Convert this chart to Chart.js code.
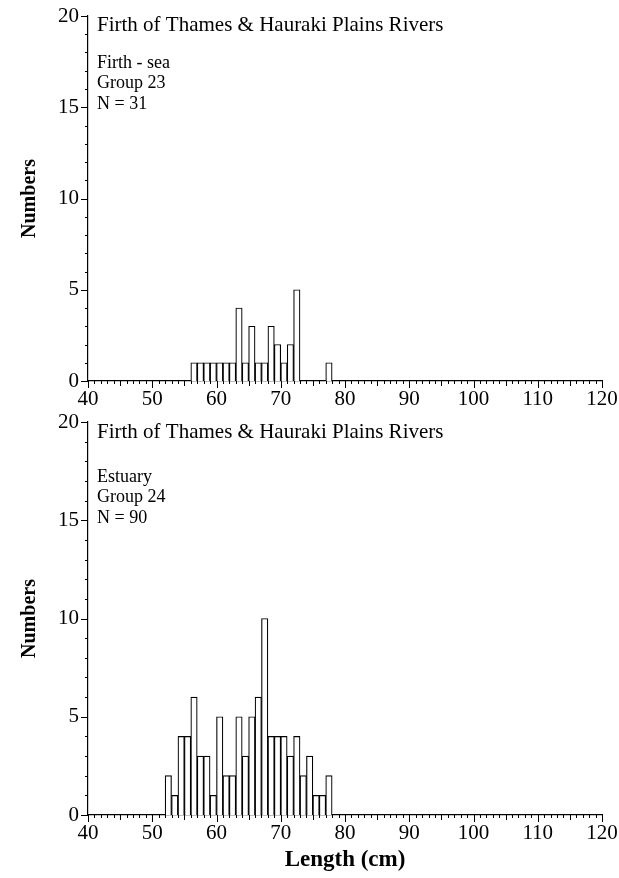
<!DOCTYPE html>
<html>
<head>
<meta charset="utf-8">
<title>Firth of Thames &amp; Hauraki Plains Rivers</title>
<script src="https://cdn.jsdelivr.net/npm/chart.js@4.4.1/dist/chart.umd.min.js"></script>
<style>
  html, body { margin: 0; padding: 0; background: #fff; }
  .panel { position: absolute; left: 0; width: 619px; }
</style>
</head>
<body>
<div class="panel" style="top:0;height:415px"><canvas id="seaChart"></canvas></div>
<div class="panel" style="top:405px;height:473px"><canvas id="estuaryChart"></canvas></div>
<script>
// lower edge of each 1 cm length class (cm) and number of fish in it
const seaBins = [56, 57, 58, 59, 60, 61, 62, 63, 64, 65, 66, 67, 68, 69, 70, 71, 72, 77];
const seaCounts = [1, 1, 1, 1, 1, 1, 1, 4, 1, 3, 1, 1, 3, 2, 1, 2, 5, 1];

const estuaryBins = [52, 53, 54, 55, 56, 57, 58, 59, 60, 61, 62, 63, 64, 65, 66, 67, 68, 69, 70, 71, 72, 73, 74, 75, 76, 77];
const estuaryCounts = [2, 1, 4, 4, 6, 3, 3, 1, 5, 2, 2, 5, 3, 5, 6, 10, 4, 4, 4, 3, 4, 2, 3, 1, 1, 2];

const lengthRange = [40, 120];
const numberRange = [0, 20];

const panelTitle = 'Firth of Thames & Hauraki Plains Rivers';
const seaNotes = ['Firth - sea', 'Group 23', 'N = 31'];
const estuaryNotes = ['Estuary', 'Group 24', 'N = 90'];

const SERIF = "'Liberation Serif', 'Times New Roman', serif";

// minor ticks every 1 unit, drawn outward from both axis lines
const axisTicks = {
  id: 'axisTicks',
  afterDraw(chart) {
    const { ctx } = chart;
    const x = chart.scales.x, y = chart.scales.y;
    ctx.save();
    ctx.strokeStyle = '#000';
    ctx.lineWidth = 1;
    ctx.beginPath();
    for (let v = x.min; v <= x.max; v++) {
      const len = v % 10 === 0 ? 7 : (v % 5 === 0 ? 5 : 3);
      const px = Math.round(x.getPixelForValue(v)) + 0.5;
      ctx.moveTo(px, y.bottom);
      ctx.lineTo(px, y.bottom + len);
    }
    for (let v = y.min; v <= y.max; v++) {
      const len = v % 5 === 0 ? 7 : 3;
      const py = Math.round(y.getPixelForValue(v)) + 0.5;
      ctx.moveTo(x.left, py);
      ctx.lineTo(x.left - len, py);
    }
    ctx.stroke();
    ctx.restore();
  }
};

// title and group notes in the upper left of the plot area
const panelText = {
  id: 'panelText',
  afterDraw(chart, args, opts) {
    const { ctx, chartArea } = chart;
    ctx.save();
    ctx.fillStyle = '#000';
    ctx.textBaseline = 'middle';
    ctx.textAlign = 'left';
    ctx.font = `21px ${SERIF}`;
    ctx.fillText(panelTitle, chartArea.left + 9, chartArea.top + opts.titleY);
    ctx.font = `18px ${SERIF}`;
    opts.lines.forEach((line, i) => {
      ctx.fillText(line, chartArea.left + 9, chartArea.top + opts.firstLine + i * 20.5);
    });
    ctx.restore();
  }
};

function noEdgePadding(scale) {
  scale.paddingTop = 0;
  scale.paddingBottom = 0;
  scale.paddingLeft = 0;
  scale.paddingRight = 0;
}

function makeChart(canvasId, bins, counts, notes, opts) {
  return new Chart(document.getElementById(canvasId), {
    type: 'bar',
    data: {
      datasets: [{
        data: bins.map((b, i) => ({ x: b + 0.5, y: counts[i] })),
        backgroundColor: '#fff',
        borderColor: '#000',
        borderWidth: 1.2,
        borderSkipped: 'start',
        barPercentage: 1,
        categoryPercentage: 1
      }]
    },
    options: {
      responsive: true,
      maintainAspectRatio: false,
      animation: false,
      events: [],
      layout: { padding: { top: opts.padTop, right: 17, left: 0, bottom: 0 } },
      plugins: {
        legend: { display: false },
        tooltip: { enabled: false },
        panelText: { lines: notes, firstLine: opts.firstLine, titleY: opts.titleY }
      },
      scales: {
        x: {
          type: 'linear',
          min: lengthRange[0],
          max: lengthRange[1],
          offset: false,
          grid: { display: false, offset: false, drawTicks: false },
          border: { display: true, color: '#000', width: 1.2 },
          ticks: {
            stepSize: 10,
            padding: 6,
            color: '#000',
            font: { family: SERIF, size: 21 }
          },
          title: {
            display: !!opts.xTitle,
            text: opts.xTitle || '',
            color: '#000',
            font: { family: SERIF, size: 23, weight: 'bold' },
            padding: { top: 0, bottom: 4 }
          },
          afterFit(scale) {
            noEdgePadding(scale);
            scale.height = opts.xHeight;
          }
        },
        y: {
          min: numberRange[0],
          max: numberRange[1],
          grid: { display: false, drawTicks: false },
          border: { display: true, color: '#000', width: 1.2 },
          ticks: {
            stepSize: 5,
            padding: 9,
            color: '#000',
            font: { family: SERIF, size: 21 }
          },
          title: {
            display: true,
            text: 'Numbers',
            color: '#000',
            font: { family: SERIF, size: 20, weight: 'bold' },
            padding: { top: 18, bottom: 0 }
          },
          afterFit(scale) {
            noEdgePadding(scale);
            scale.width = 88;
          }
        }
      }
    },
    plugins: [axisTicks, panelText]
  });
}

makeChart('seaChart', seaBins, seaCounts, seaNotes,
  { padTop: 16, xHeight: 34, titleY: 9, firstLine: 47 });
makeChart('estuaryChart', estuaryBins, estuaryCounts, estuaryNotes,
  { padTop: 17, xHeight: 63, titleY: 10, firstLine: 55, xTitle: 'Length (cm)' });
</script>
</body>
</html>
